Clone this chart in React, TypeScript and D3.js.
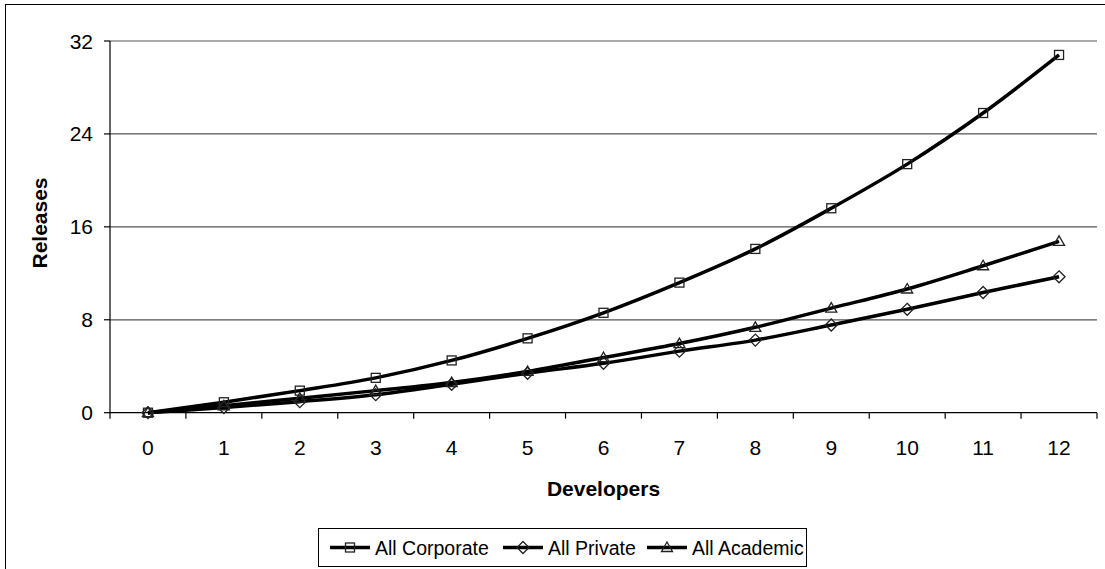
import React from "react";
import * as d3 from "d3";

// Developers on the x axis (category positions)
const developers = [0, 1, 2, 3, 4, 5, 6, 7, 8, 9, 10, 11, 12];

// Releases per series
const allCorporate = [0, 0.9, 1.9, 3.0, 4.5, 6.4, 8.6, 11.2, 14.1, 17.6, 21.4, 25.8, 30.8];
const allPrivate = [0, 0.45, 0.95, 1.55, 2.45, 3.4, 4.25, 5.3, 6.25, 7.55, 8.9, 10.35, 11.7];
const allAcademic = [0, 0.6, 1.25, 1.9, 2.6, 3.55, 4.75, 5.95, 7.35, 9.0, 10.65, 12.65, 14.75];

const yTicks = [0, 8, 16, 24, 32];

const seriesNames = ["All Corporate", "All Private", "All Academic"];
const seriesMarkers = ["square", "diamond", "triangle"];

const W = 1105;
const H = 569;
const FONT = "'Liberation Sans', Arial, sans-serif";

function Marker({ kind, x, y }: { kind: string; x: number; y: number }) {
  const common = { fill: "none", stroke: "#222", strokeWidth: 1.3 };
  if (kind === "square") {
    return <rect x={x - 4.5} y={y - 4.5} width={9} height={9} {...common} />;
  }
  if (kind === "diamond") {
    return (
      <path
        d={`M${x},${y - 6}L${x + 6},${y}L${x},${y + 6}L${x - 6},${y}Z`}
        {...common}
      />
    );
  }
  return (
    <path d={`M${x},${y - 5.5}L${x + 5.5},${y + 4}L${x - 5.5},${y + 4}Z`} {...common} />
  );
}

export default function App() {
  const left = 110;
  const right = 1097;
  const top = 41;
  const bottom = 412.7;

  const x = d3
    .scaleBand<number>()
    .domain(developers)
    .range([left, right])
    .padding(0);
  const bw = x.bandwidth();
  const cx = (d: number) => (x(d) as number) + bw / 2;
  const y = d3.scaleLinear().domain([0, 32]).range([bottom, top]);

  const series = [allCorporate, allPrivate, allAcademic];

  const line = d3
    .line<number>()
    .x((_, i) => cx(developers[i]))
    .y((v) => y(v))
    .curve(d3.curveCatmullRom.alpha(0.5));

  // Category boundaries for the x tick marks
  const xBoundaries = developers.map((d) => x(d) as number).concat([right]);

  // Legend layout: sample line start and label start per entry
  const legendItems = [
    { lineX: 330, textX: 375 },
    { lineX: 503, textX: 548 },
    { lineX: 647, textX: 692 },
  ];
  const sampleLen = 40;

  return (
    <div style={{ position: "absolute", left: 0, top: 0 }}>
      <svg width={W} height={H} style={{ display: "block", background: "#fff" }}>
        {/* chart frame */}
        <rect x={5.5} y={4.5} width={1200} height={700} fill="#fff" stroke="#000" strokeWidth={1} />

        {/* gridlines */}
        {yTicks.map((t) =>
          t === 0 ? null : (
            <line key={t} x1={left} x2={right} y1={y(t)} y2={y(t)} stroke="#555" strokeWidth={1.2} />
          )
        )}

        {/* y axis */}
        <line x1={left} x2={left} y1={top} y2={bottom} stroke="#000" strokeWidth={1.2} />
        {yTicks.map((t) => (
          <g key={"yt" + t}>
            <line x1={left - 6} x2={left} y1={y(t)} y2={y(t)} stroke="#000" strokeWidth={1.2} />
            <text
              x={93}
              y={y(t)}
              textAnchor="end"
              dominantBaseline="central"
              fontFamily={FONT}
              fontSize={21}
              fill="#000"
            >
              {t}
            </text>
          </g>
        ))}

        {/* x axis */}
        <line x1={left} x2={right} y1={bottom} y2={bottom} stroke="#000" strokeWidth={1.2} />
        {xBoundaries.map((b, i) => (
          <line key={"xb" + i} x1={b} x2={b} y1={bottom} y2={bottom + 6} stroke="#000" strokeWidth={1.2} />
        ))}
        {developers.map((d) => (
          <text
            key={"xl" + d}
            x={cx(d)}
            y={447}
            textAnchor="middle"
            dominantBaseline="central"
            fontFamily={FONT}
            fontSize={21}
            fill="#000"
          >
            {d}
          </text>
        ))}

        {/* axis titles */}
        <text
          x={(left + right) / 2}
          y={496}
          textAnchor="middle"
          fontFamily={FONT}
          fontSize={21}
          fontWeight="bold"
          fill="#000"
        >
          Developers
        </text>
        <text
          transform={`translate(47,223) rotate(-90)`}
          textAnchor="middle"
          fontFamily={FONT}
          fontSize={21}
          fontWeight="bold"
          fill="#000"
        >
          Releases
        </text>

        {/* series lines */}
        {series.map((vals, si) => (
          <path key={"l" + si} d={line(vals) || ""} fill="none" stroke="#000" strokeWidth={3.5} />
        ))}
        {/* series markers */}
        {series.map((vals, si) =>
          vals.map((v, i) => (
            <Marker key={`m${si}-${i}`} kind={seriesMarkers[si]} x={cx(developers[i])} y={y(v)} />
          ))
        )}

        {/* legend */}
        <rect x={318.5} y={528.5} width={488} height={38} fill="#fff" stroke="#000" strokeWidth={1} />
        {seriesNames.map((name, i) => {
          const it = legendItems[i];
          const ly = 547.5;
          return (
            <g key={"lg" + i}>
              <line x1={it.lineX} x2={it.lineX + sampleLen} y1={ly} y2={ly} stroke="#000" strokeWidth={3.5} />
              <Marker kind={seriesMarkers[i]} x={it.lineX + sampleLen / 2} y={ly} />
              <text
                x={it.textX}
                y={ly}
                dominantBaseline="central"
                fontFamily={FONT}
                fontSize={19.5}
                fill="#000"
              >
                {name}
              </text>
            </g>
          );
        })}
      </svg>
    </div>
  );
}
